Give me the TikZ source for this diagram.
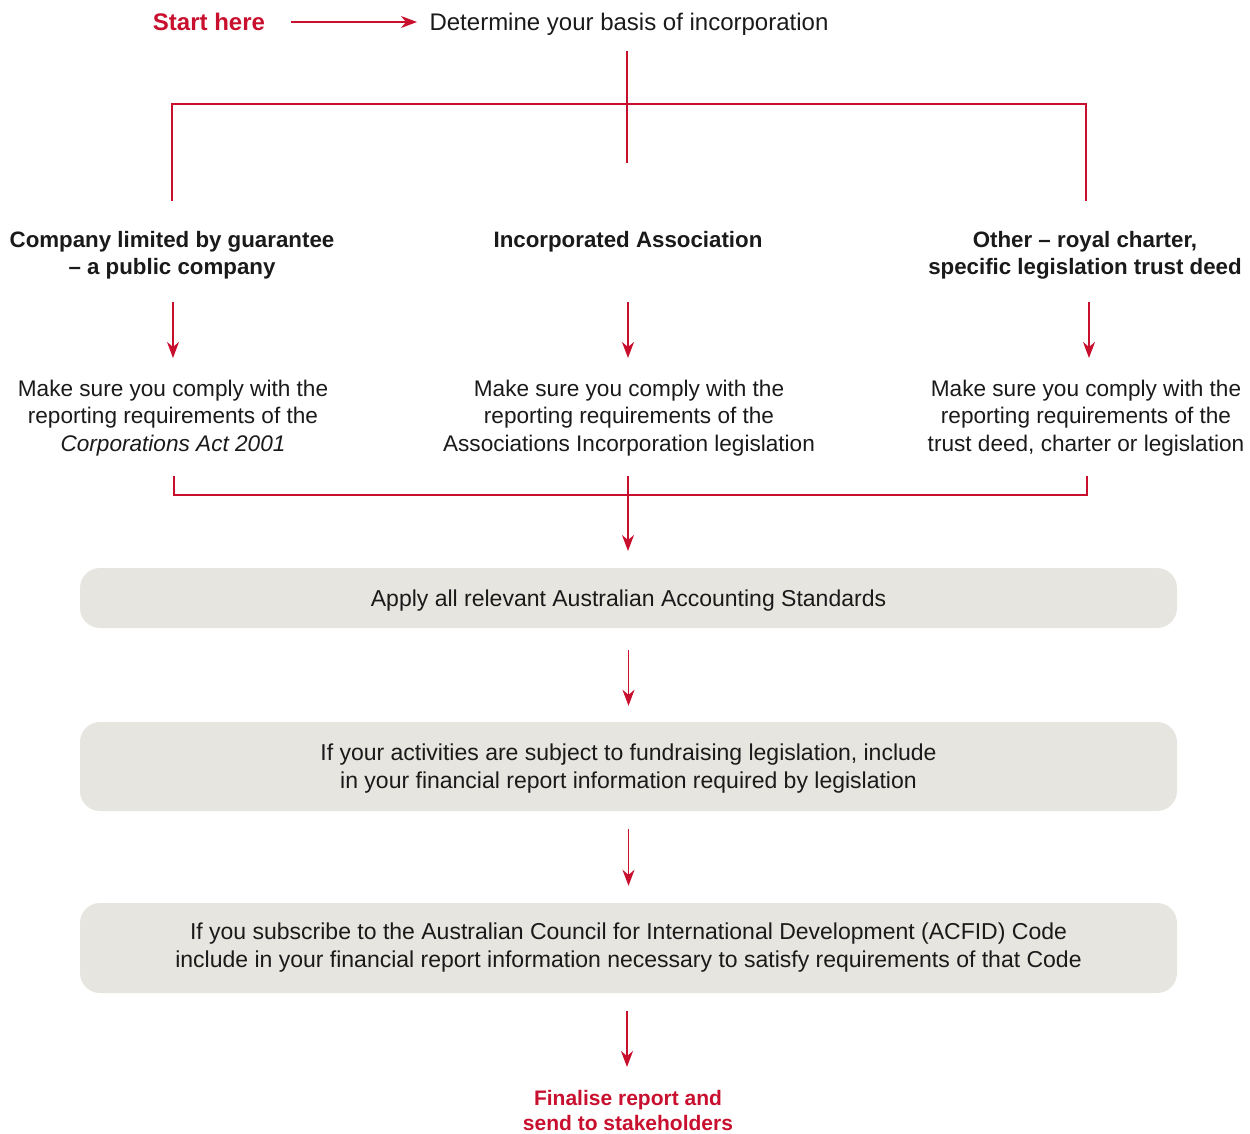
\documentclass[tikz,border=0pt]{standalone}
\usepackage{fontspec}
\setmainfont{Liberation Sans}
\usetikzlibrary{arrows.meta}
\definecolor{kred}{HTML}{C8102E}
\definecolor{kbox}{HTML}{E6E5DF}
\definecolor{ktext}{HTML}{1A1A1A}
\begin{document}
\begin{tikzpicture}[x=1pt,y=-1pt,
  conn/.style={draw=kred,line width=1.3pt},
  arr/.style={conn,-{Stealth[length=16pt,width=12pt,inset=5pt]}},
  head/.style={align=center,font=\fontsize{22.3}{27}\selectfont\bfseries,text=ktext,inner sep=0pt},
  body/.style={align=center,font=\fontsize{22.6}{27.5}\selectfont,text=ktext,inner sep=0pt},
  stepbox/.style={fill=kbox,rounded corners=20pt,minimum width=1097pt,inner sep=0pt},
  boxtxt/.style={align=center,font=\fontsize{23}{28}\selectfont,text=ktext,inner sep=0pt},
  redtxt/.style={text=kred,align=center,inner sep=0pt}]
\useasboundingbox (0,0) rectangle (1250,1133);

% top line
\node[redtxt,font=\fontsize{24}{28}\selectfont\bfseries] (start) at (209,22) {Start here};
\node[text=ktext,font=\fontsize{24}{28}\selectfont,inner sep=0pt,anchor=mid] (det) at (629,28) {Determine your basis of incorporation};
\coordinate (sa) at (291,22);
\coordinate (sb) at (417,22);
\draw[arr] (sa) -- (sb);

% split
\coordinate (dtop) at (627,51);
\coordinate (dbot) at (627,163);
\draw[conn] (dtop) -- (dbot);
\coordinate (bl) at (172,201);
\coordinate (br) at (1086,201);
\draw[conn] (bl) -- ++(0,-97) -| (br);

% headings
\node[head] (h1) at (172,255) {Company limited by guarantee\\– a public company};
\node[head] (h2) at (628,241.5) {Incorporated Association};
\node[head] (h3) at (1085,255) {Other – royal charter,\\specific legislation trust deed};

% arrows to bodies
\coordinate (a1s) at (173,302); \coordinate (a1e) at (173,358);
\coordinate (a2s) at (628,302); \coordinate (a2e) at (628,358);
\coordinate (a3s) at (1089,302); \coordinate (a3e) at (1089,358);
\draw[arr] (a1s) -- (a1e);
\draw[arr] (a2s) -- (a2e);
\draw[arr] (a3s) -- (a3e);

% bodies
\node[body] (c1) at (173,418) {Make sure you comply with the\\reporting requirements of the\\\itshape Corporations Act 2001};
\node[body] (c2) at (629,418) {Make sure you comply with the\\reporting requirements of the\\Associations Incorporation legislation};
\node[body] (c3) at (1086,418) {Make sure you comply with the\\reporting requirements of the\\trust deed, charter or legislation};

% join
\coordinate (jl) at (174,476);
\coordinate (jr) at (1087,476);
\draw[conn] (jl) -- ++(0,19) -| (jr);
\coordinate (js) at (628,476);
\coordinate (je) at (628,551);
\draw[arr] (js) -- (je);

% boxes
\node[stepbox,minimum height=60pt] (b1) at (628.5,598) {};
\node[stepbox,minimum height=89pt] (b2) at (628.5,766.5) {};
\node[stepbox,minimum height=90pt] (b3) at (628.5,948) {};
\node[boxtxt] (t1) at (628.5,601) {Apply all relevant Australian Accounting Standards};
\node[boxtxt] (t2) at (628.5,768.5) {If your activities are subject to fundraising legislation, include\\in your financial report information required by legislation};
\node[boxtxt] (t3) at (628.5,948) {If you subscribe to the Australian Council for International Development (ACFID) Code\\include in your financial report information necessary to satisfy requirements of that Code};

\draw[arr,shorten <=22pt,shorten >=16pt] (b1) -- (b2);
\draw[arr,shorten <=18pt,shorten >=17pt] (b2) -- (b3);

\node[redtxt,font=\fontsize{21}{25}\selectfont\bfseries] (fin) at (628,1110) {Finalise report and\\send to stakeholders};
\coordinate (fs) at (627,1011);
\coordinate (fe) at (627,1067);
\draw[arr] (fs) -- (fe);
\end{tikzpicture}
\end{document}
